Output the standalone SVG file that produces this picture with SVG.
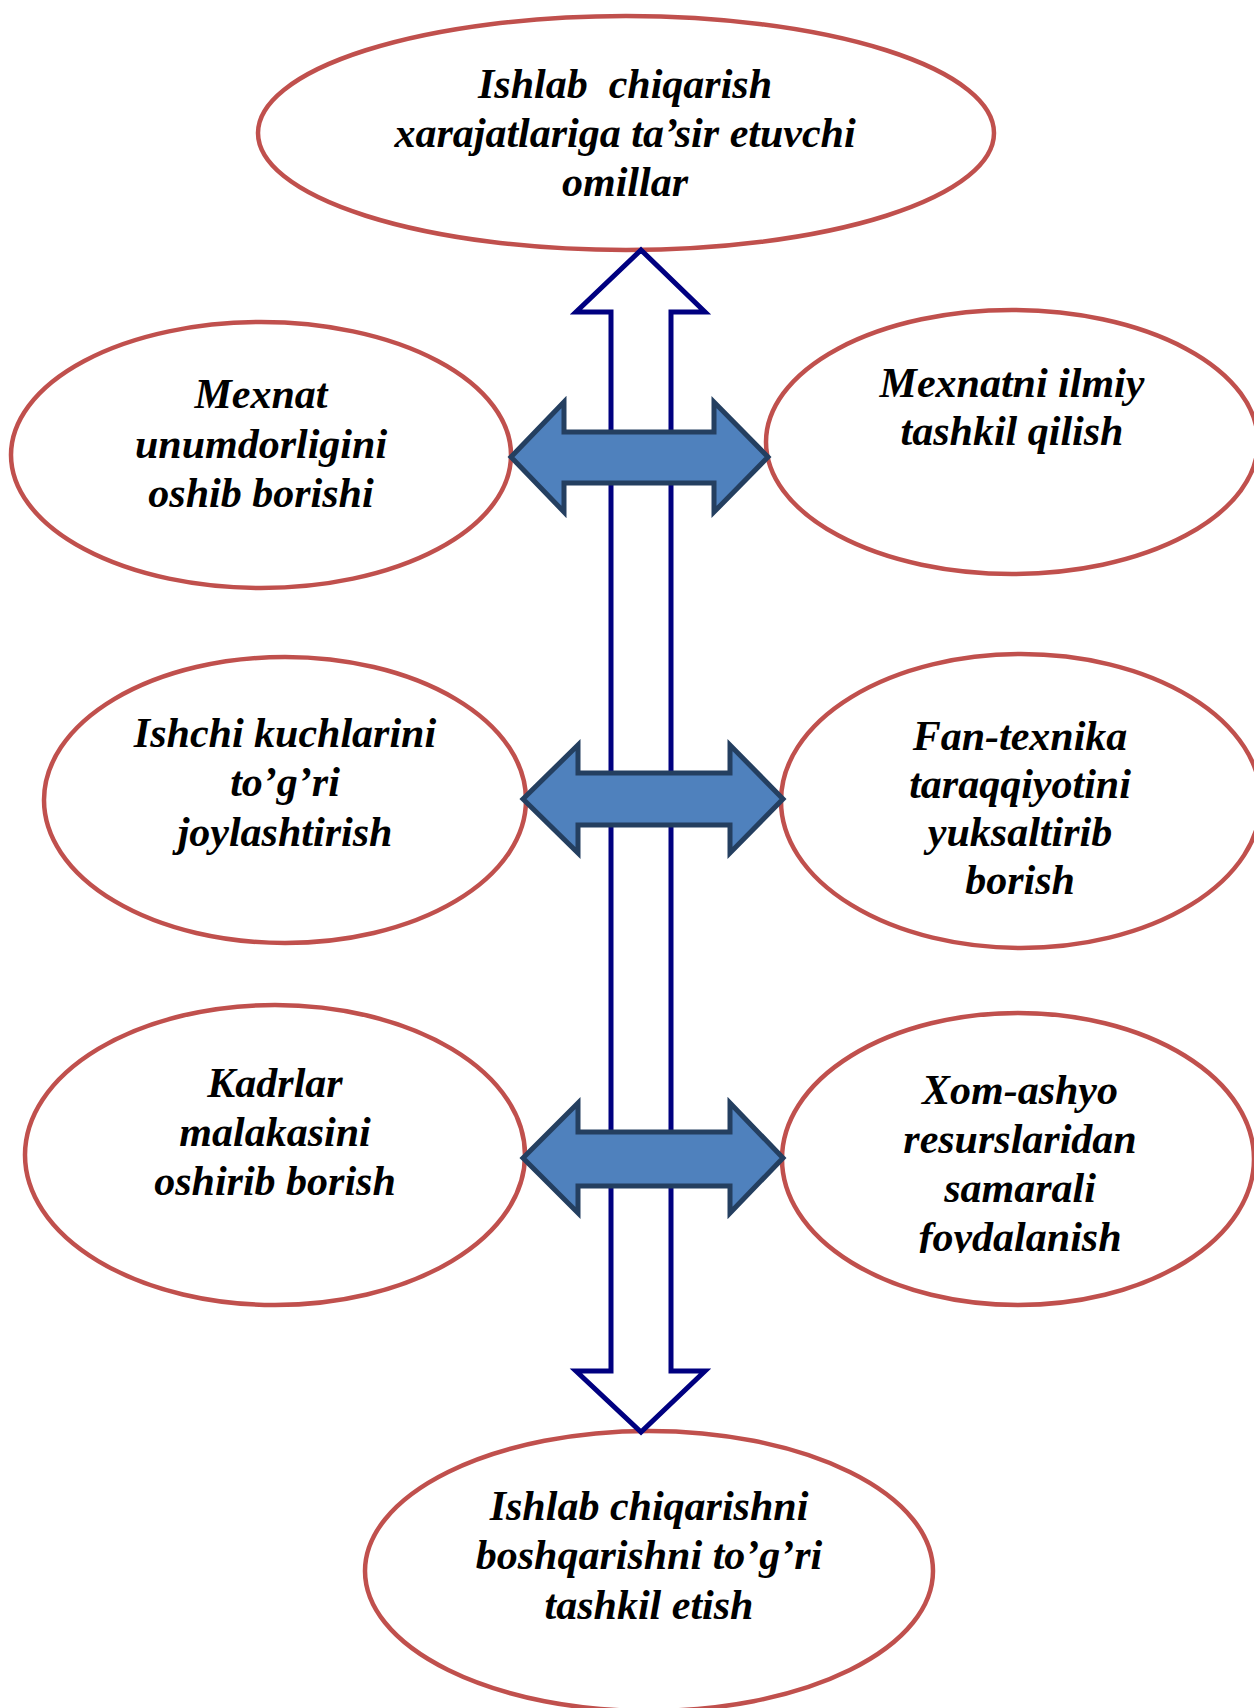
<svg xmlns="http://www.w3.org/2000/svg" width="1254" height="1708" viewBox="0 0 1254 1708">
<style>
.node ellipse{fill:#FFFFFF;stroke:#C0504D;stroke-width:4.5}
.node text{font-family:"Liberation Serif","Times New Roman",serif;font-weight:bold;font-style:italic;font-size:42px;fill:#000000;text-anchor:middle}
.vert{fill:#FFFFFF;stroke:#000080;stroke-width:5;stroke-linejoin:miter}
.dbl{fill:#4F81BD;stroke:#243F60;stroke-width:5;stroke-linejoin:miter}
</style>
<defs>
<clipPath id="clipXom"><rect x="760" y="1000" width="494" height="253"/></clipPath>
</defs>
<rect x="0" y="0" width="1254" height="1708" fill="#FFFFFF"/>
<g id="nodes">
<g id="top" class="node">
<ellipse cx="626" cy="133" rx="368" ry="117"/>
<text x="625" y="98" xml:space="preserve">Ishlab  chiqarish</text>
<text x="625" y="147">xarajatlariga ta’sir etuvchi</text>
<text x="625" y="196">omillar</text>
</g>
<g id="mexnat-unum" class="node">
<ellipse cx="261" cy="455" rx="250" ry="133"/>
<text x="261" y="408">Mexnat</text>
<text x="261" y="458">unumdorligini</text>
<text x="261" y="507">oshib borishi</text>
</g>
<g id="mexnat-ilmiy" class="node">
<ellipse cx="1012" cy="442" rx="246" ry="132"/>
<text x="1012" y="397">Mexnatni ilmiy</text>
<text x="1012" y="445">tashkil qilish</text>
</g>
<g id="ishchi" class="node">
<ellipse cx="285" cy="800" rx="241" ry="143"/>
<text x="285" y="747">Ishchi kuchlarini</text>
<text x="285" y="796">to’g’ri</text>
<text x="285" y="846">joylashtirish</text>
</g>
<g id="fan" class="node">
<ellipse cx="1021" cy="801" rx="240" ry="147"/>
<text x="1020" y="750">Fan-texnika</text>
<text x="1020" y="798">taraqqiyotini</text>
<text x="1020" y="846">yuksaltirib</text>
<text x="1020" y="894">borish</text>
</g>
<g id="kadrlar" class="node">
<ellipse cx="275" cy="1155" rx="250" ry="150"/>
<text x="275" y="1097">Kadrlar</text>
<text x="275" y="1146">malakasini</text>
<text x="275" y="1195">oshirib borish</text>
</g>
<g id="xom" class="node">
<ellipse cx="1018" cy="1159" rx="236" ry="146"/>
<text x="1020" y="1104">Xom-ashyo</text>
<text x="1020" y="1153">resurslaridan</text>
<text x="1020" y="1202">samarali</text>
<text x="1020" y="1251" clip-path="url(#clipXom)">foydalanish</text>
</g>
<g id="bottom" class="node">
<ellipse cx="649" cy="1571" rx="284" ry="140"/>
<text x="649" y="1520">Ishlab chiqarishni</text>
<text x="649" y="1569">boshqarishni to’g’ri</text>
<text x="649" y="1619">tashkil etish</text>
</g>
</g>
<g id="connectors">
<path class="vert" d="M641,250 L705,312 L671,312 L671,1371 L705,1371 L641,1432 L576,1371 L611,1371 L611,312 L576,312 Z"/>
<path class="dbl" d="M511,457 L564,402 L564,432 L714,432 L714,402 L768,457 L714,512 L714,483 L564,483 L564,512 Z"/>
<path class="dbl" d="M523,799 L578,745 L578,773 L730,773 L730,745 L783,799 L730,853 L730,825 L578,825 L578,853 Z"/>
<path class="dbl" d="M523,1158 L578,1103 L578,1132 L730,1132 L730,1103 L783,1158 L730,1213 L730,1186 L578,1186 L578,1213 Z"/>
</g>
</svg>
